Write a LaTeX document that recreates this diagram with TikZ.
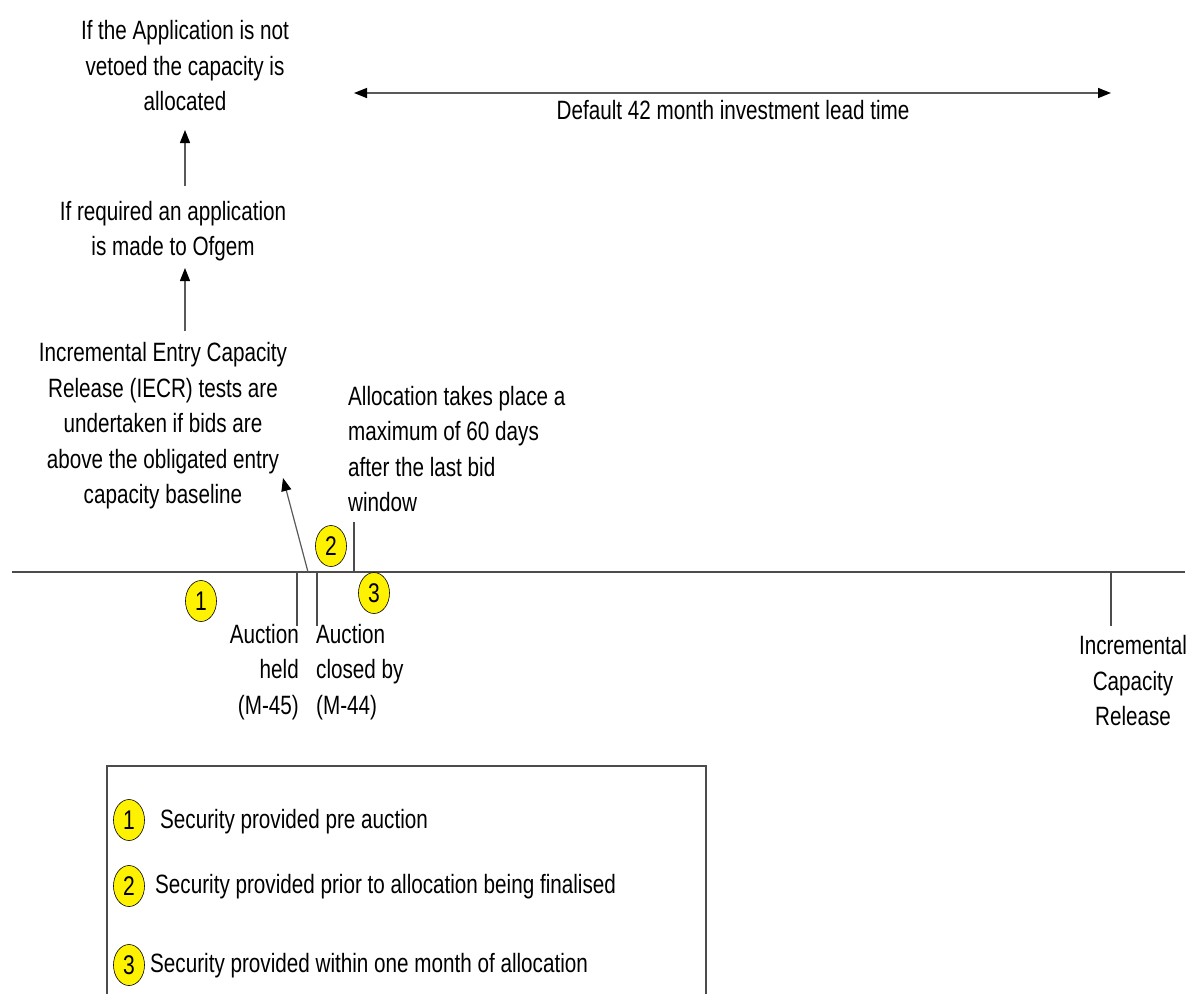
\documentclass[tikz,border=0pt]{standalone}
\usepackage{fontspec}
\setmainfont{Liberation Sans}[FakeStretch=0.78]
\usetikzlibrary{arrows.meta,shapes.geometric}
\tikzset{
  txt/.style={font=\fontsize{26.5}{35.5}\selectfont, inner sep=0pt},
  arr/.style={draw=gray!70!black, line width=1.2pt, -{Triangle[width=10pt,length=13pt,color=black]}},
  darr/.style={draw=gray!70!black, line width=1.5pt, {Triangle[width=10pt,length=13pt,color=black]}-{Triangle[width=10pt,length=13pt,color=black]}},
  tick/.style={draw=gray!60!black, line width=1.2pt},
  num/.style={ellipse, draw=black, line width=0.6pt, fill=yellow, minimum width=31pt, minimum height=41pt, inner sep=0pt, font=\fontsize{27}{28}\selectfont},
}
\begin{document}
\begin{tikzpicture}[x=1pt,y=-1pt]
\useasboundingbox (0,0) rectangle (1197,994);
% texts
\node[txt, align=center] (b1) at (185,66) {If the Application is not\\vetoed the capacity is\\allocated};
\node[txt, align=center] (b2) at (173,231) {If required an application\\is made to Ofgem};
\node[txt, align=center] (b3) at (163,426) {Incremental Entry Capacity\\Release (IECR) tests are\\undertaken if bids are\\above the obligated entry\\capacity baseline};
\node[txt, align=left, anchor=west] (b4) at (348,449) {Allocation takes place a\\maximum of 60 days\\after the last bid\\window};
\node[txt, align=right, anchor=east] (held) at (299,672) {Auction\\held\\(M-45)};
\node[txt, align=left, anchor=west] (closed) at (316,672) {Auction\\closed by\\(M-44)};
\node[txt, align=center] (icr) at (1133,681) {Incremental\\Capacity\\Release};
\node[txt] (lead) at (733,110) {Default 42 month investment lead time};
% timeline
\coordinate (tl0) at (12,572);
\coordinate (tl1) at (1185,572);
\draw[tick] (tl0) -- (tl1);
% ticks
\coordinate (t354a) at (354,522); \coordinate (t354b) at (354,572);
\draw[tick] (t354a) -- (t354b);
\coordinate (t297a) at (297,572); \coordinate (t297b) at (297,626);
\draw[tick] (t297a) -- (t297b);
\coordinate (t317a) at (317,572); \coordinate (t317b) at (317,626);
\draw[tick] (t317a) -- (t317b);
\coordinate (t1111a) at (1111,572); \coordinate (t1111b) at (1111,626);
\draw[tick] (t1111a) -- (t1111b);
% arrows
\coordinate (a1s) at (185,186); \coordinate (a1e) at (185,130);
\draw[arr] (a1s) -- (a1e);
\coordinate (a2s) at (185,331); \coordinate (a2e) at (185,268);
\draw[arr] (a2s) -- (a2e);
\coordinate (a3s) at (308,572); \coordinate (a3e) at (283,478);
\draw[arr] (a3s) -- (a3e);
\coordinate (ls) at (354,93); \coordinate (le) at (1111,93);
\draw[darr] (ls) -- (le);
% numbered markers on timeline
\node[num] (n1) at (201,601) {1};
\node[num] (n2) at (331,546) {2};
\node[num] (n3) at (374,593) {3};
% legend
\coordinate (lg1) at (107,994); \coordinate (lg2) at (107,766);
\coordinate (lg3) at (706,766); \coordinate (lg4) at (706,994);
\draw[tick] (lg1) -- (lg2) -- (lg3) -- (lg4);
\node[num] (m1) at (129,820) {1};
\node[num] (m2) at (129,886) {2};
\node[num] (m3) at (129,965) {3};
\node[txt, anchor=west] (l1) at (160,822) {Security provided pre auction};
\node[txt, anchor=west] (l2) at (155,887) {Security provided prior to allocation being finalised};
\node[txt, anchor=west] (l3) at (150,966) {Security provided within one month of allocation};
\end{tikzpicture}
\end{document}
